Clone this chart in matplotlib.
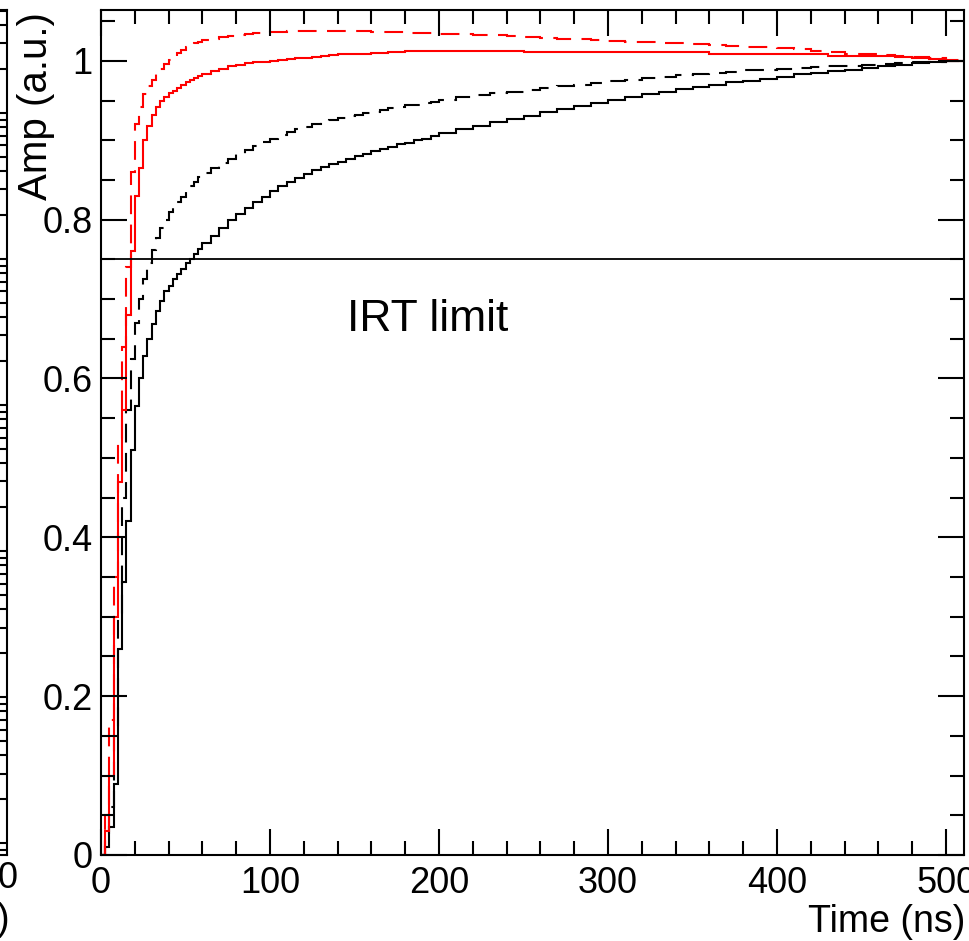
import matplotlib
matplotlib.use("Agg")
import matplotlib.pyplot as plt
from matplotlib.ticker import MultipleLocator, FixedLocator, FuncFormatter, LogLocator, NullFormatter

plt.rcParams['font.family'] = ['Liberation Sans', 'DejaVu Sans']

# ---- data (time bin edges in ns, normalised amplitude per bin) ----
time_edges = [0, 2.5, 5, 7.5, 10, 12.5, 15, 17.5, 20, 22.5, 25, 27.5, 30, 32.5, 35, 37.5,
              40, 42.5, 45, 47.5, 50, 52.5, 55, 57.5, 60,
              65, 70, 75, 80, 85, 90, 95, 100, 105, 110, 115, 120, 125, 130, 135, 140,
              145, 150, 155, 160, 165, 170, 175, 180, 185, 190, 195, 200,
              210, 220, 230, 240, 250, 260, 270, 280, 290, 300, 310, 320, 330, 340, 350, 360,
              370, 380, 390, 400, 410, 420, 430, 440, 450, 460, 470, 480, 490, 500, 510]

black_solid = [0.0, 0.01, 0.035, 0.09, 0.26, 0.344, 0.42, 0.51, 0.565, 0.60, 0.628, 0.65,
               0.668, 0.685, 0.698, 0.71,
               0.717, 0.725, 0.732, 0.738, 0.745, 0.751, 0.757, 0.763,
               0.770, 0.780, 0.790, 0.799, 0.807, 0.815, 0.822, 0.829, 0.836, 0.842,
               0.848, 0.853, 0.858, 0.862, 0.866, 0.870, 0.873, 0.877, 0.880, 0.883,
               0.886, 0.889, 0.892, 0.895, 0.897, 0.900, 0.902, 0.905,
               0.909, 0.914, 0.918, 0.923, 0.927, 0.931, 0.935, 0.939, 0.943, 0.947,
               0.951, 0.955, 0.958, 0.961, 0.964, 0.967, 0.970, 0.973, 0.975, 0.977,
               0.980, 0.983, 0.985, 0.987, 0.989, 0.991, 0.993, 0.995, 0.997, 0.999,
               1.0]

black_dashed = [0.0, 0.02, 0.06, 0.15, 0.30, 0.45, 0.56, 0.625, 0.67, 0.70, 0.725, 0.745,
                0.762, 0.777, 0.789, 0.80,
                0.81, 0.816, 0.822, 0.829, 0.836, 0.842, 0.848, 0.854,
                0.859, 0.865, 0.871, 0.877, 0.883, 0.888, 0.893, 0.898, 0.902, 0.906,
                0.910, 0.914, 0.917, 0.920, 0.923, 0.925, 0.928, 0.930, 0.932, 0.934,
                0.936, 0.938, 0.940, 0.942, 0.944, 0.945, 0.947, 0.948,
                0.951, 0.954, 0.957, 0.959, 0.961, 0.963, 0.966, 0.968, 0.970, 0.972,
                0.974, 0.976, 0.978, 0.980, 0.982, 0.983, 0.985, 0.986, 0.988, 0.989,
                0.990, 0.991, 0.992, 0.993, 0.994, 0.995, 0.996, 0.997, 0.998, 0.999,
                1.0]

red_solid = [0.0, 0.03, 0.10, 0.30, 0.47, 0.56, 0.68, 0.76, 0.83, 0.865, 0.90, 0.918,
             0.932, 0.942, 0.949, 0.955,
             0.959, 0.962, 0.966, 0.970, 0.973, 0.976, 0.979, 0.981,
             0.984, 0.987, 0.990, 0.993, 0.995, 0.997, 0.998, 0.999, 1.000, 1.001,
             1.002, 1.003, 1.004, 1.005, 1.006, 1.007, 1.008, 1.008, 1.009, 1.009,
             1.010, 1.010, 1.011, 1.011, 1.012, 1.012, 1.012, 1.012,
             1.012, 1.012, 1.012, 1.012, 1.012, 1.011, 1.011, 1.011, 1.011, 1.011,
             1.011, 1.011, 1.011, 1.011, 1.011, 1.011, 1.008, 1.008, 1.008, 1.008,
             1.008, 1.008, 1.008, 1.006, 1.006, 1.006, 1.006, 1.005, 1.004, 1.002,
             1.000]

red_dashed = [0.0, 0.05, 0.17, 0.35, 0.52, 0.64, 0.74, 0.86, 0.92, 0.942, 0.958, 0.968,
              0.976, 0.984, 0.99, 0.996,
              1.001, 1.006, 1.010, 1.014, 1.017, 1.020, 1.022, 1.024,
              1.026, 1.028, 1.030, 1.031, 1.033, 1.034, 1.035, 1.035, 1.036, 1.036,
              1.037, 1.037, 1.037, 1.037, 1.038, 1.038, 1.038, 1.038, 1.037, 1.037,
              1.036, 1.036, 1.036, 1.036, 1.035, 1.035, 1.035, 1.035,
              1.034, 1.034, 1.033, 1.032, 1.031, 1.030, 1.029, 1.028, 1.027, 1.026,
              1.025, 1.024, 1.024, 1.023, 1.022, 1.021, 1.020, 1.019, 1.018, 1.017,
              1.016, 1.015, 1.013, 1.011, 1.009, 1.008, 1.007, 1.006, 1.005, 1.003,
              1.001]

irt_limit = 0.75
x_range = (0, 510.6)
y_range = (0, 1.064)
y_ticks = [0, 0.2, 0.4, 0.6, 0.8, 1.0]
x_ticks = [0, 100, 200, 300, 400, 500]

# ---- figure ----
W, H = 970, 941
fig = plt.figure(figsize=(W / 100, H / 100), dpi=100)

ax_l, ax_r, ax_t, ax_b = 101, 964, 10, 855
ax = fig.add_axes([ax_l / W, 1 - ax_b / H, (ax_r - ax_l) / W, (ax_b - ax_t) / H])

# partial left neighbour panel (only its right edge is visible)
ax0 = fig.add_axes([-0.5, 1 - ax_b / H, 0.5 + 7 / W, (ax_b - ax_t) / H])
ax0.set_yscale('log')
ax0.set_ylim(10 ** -0.08, 10 ** 5.705)
ax0.set_xticks([])
ax0.yaxis.set_major_locator(LogLocator(base=10, numticks=20))
ax0.yaxis.set_minor_locator(LogLocator(base=10, subs=range(2, 10), numticks=100))
ax0.yaxis.set_minor_formatter(NullFormatter())
ax0.tick_params(axis='y', which='both', direction='in', left=False, right=True,
                labelleft=False, labelright=False, width=1.5)
ax0.tick_params(axis='y', which='major', length=18)
ax0.tick_params(axis='y', which='minor', length=9)
for s in ax0.spines.values():
    s.set_linewidth(1.5)

lw = 1.5
ax.stairs(black_solid, time_edges, color='black', lw=lw, baseline=None)
ax.stairs(black_dashed, time_edges, color='black', lw=lw, baseline=None, linestyle=(0, (9, 5)))
ax.stairs(red_solid, time_edges, color='#ff0000', lw=lw, baseline=None)
ax.stairs(red_dashed, time_edges, color='#ff0000', lw=lw, baseline=None, linestyle=(0, (9, 5)))
ax.axhline(irt_limit, color='black', lw=1.3)

ax.set_xlim(*x_range)
ax.set_ylim(*y_range)
ax.xaxis.set_major_locator(FixedLocator(x_ticks))
ax.xaxis.set_minor_locator(MultipleLocator(20))
ax.yaxis.set_major_locator(FixedLocator(y_ticks))
ax.yaxis.set_minor_locator(MultipleLocator(0.05))
ax.yaxis.set_major_formatter(FuncFormatter(lambda v, p: f"{v:g}"))
ax.tick_params(which='both', direction='in', top=True, right=True, width=1.5,
               labelsize=26, colors='black')
ax.tick_params(which='major', length=19)
ax.tick_params(which='minor', length=10)
ax.tick_params(axis='x', which='major', pad=8)
ax.tick_params(axis='y', which='major', pad=6)
for s in ax.spines.values():
    s.set_linewidth(1.5)

ax.text(193, 0.674, 'IRT limit', ha='center', va='center', fontsize=32)

fig.text(36 / W, 1 - 12 / H, 'Amp (a.u.)', rotation=90, ha='center', va='top', fontsize=29)
fig.text(965 / W, 1 - 922 / H, 'Time (ns)', ha='right', va='center', fontsize=27)

# fragments of the neighbouring panel's labels
fig.text(8 / W, 1 - 878 / H, '0', ha='center', va='center', fontsize=26)
fig.text(3 / W, 1 - 920 / H, ')', ha='center', va='center', fontsize=27)

fig.savefig('out.png', dpi=100)
